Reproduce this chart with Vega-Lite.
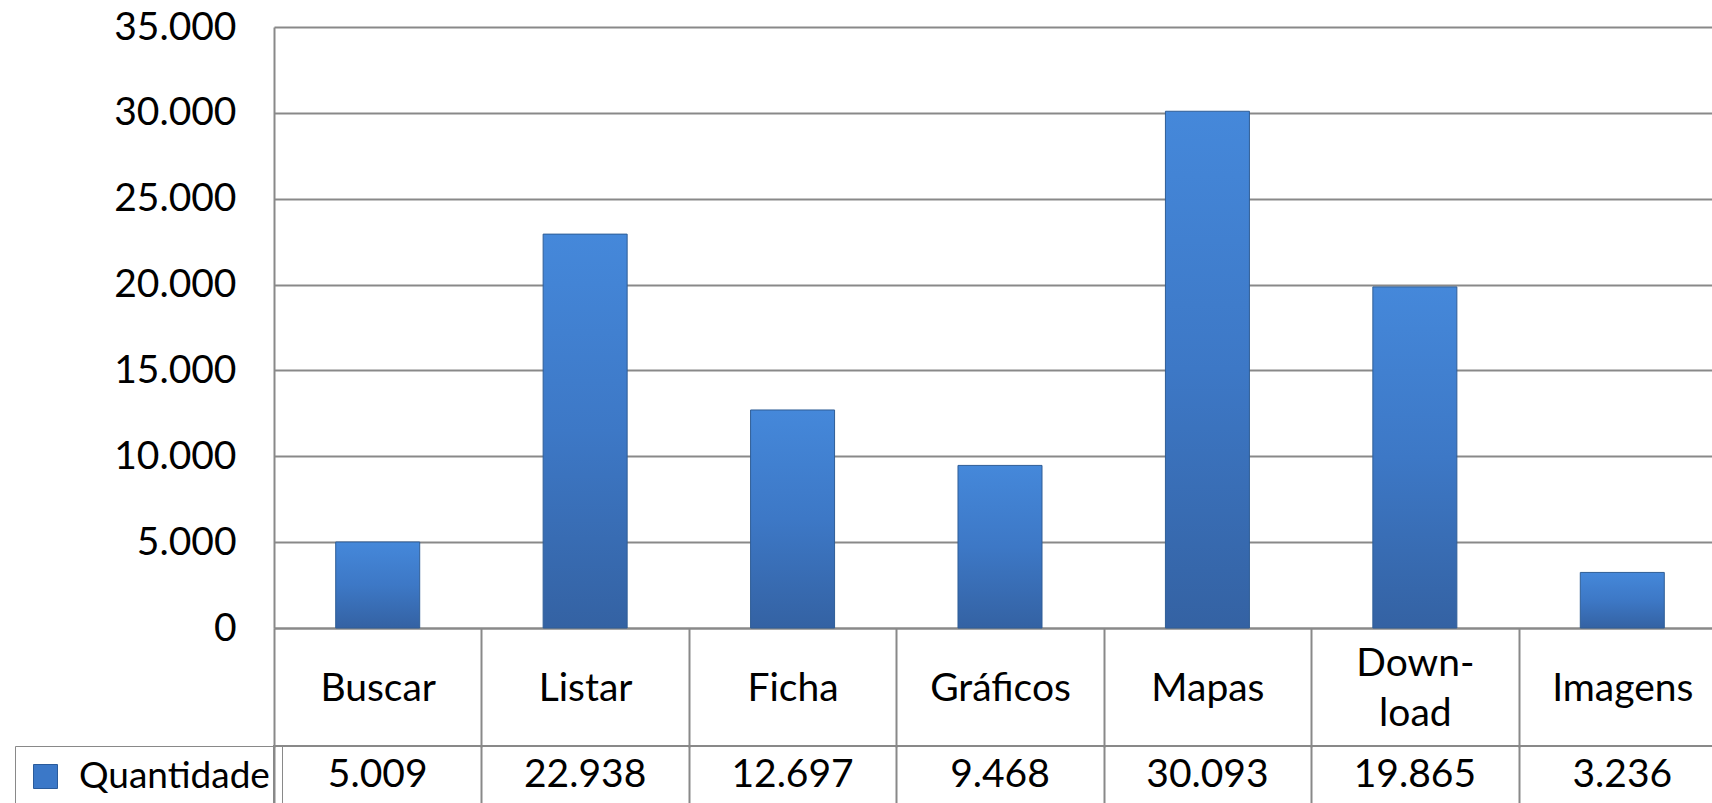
{
  "$schema": "https://vega.github.io/schema/vega-lite/v6.json",
  "padding": {"left": 14, "top": 8, "right": 0, "bottom": 0},
  "background": "white",
  "bounds": "flush",
  "spacing": 118,
  "data": {
    "values": [
      {"categoria": "Buscar", "quantidade": 5009, "serie": "Quantidade"},
      {"categoria": "Listar", "quantidade": 22938, "serie": "Quantidade"},
      {"categoria": "Ficha", "quantidade": 12697, "serie": "Quantidade"},
      {"categoria": "Gráficos", "quantidade": 9468, "serie": "Quantidade"},
      {"categoria": "Mapas", "quantidade": 30093, "serie": "Quantidade"},
      {"categoria": "Download", "quantidade": 19865, "serie": "Quantidade"},
      {"categoria": "Imagens", "quantidade": 3236, "serie": "Quantidade"}
    ]
  },
  "config": {
    "font": "Lato",
    "locale": {"number": {"decimal": ",", "thousands": ".", "grouping": [3], "currency": ["", ""]}},
    "axis": {"labelFont": "Lato", "labelFontSize": 39, "labelColor": "#000000", "title": null}
  },
  "vconcat": [
    {
      "width": 1452,
      "height": 601,
      "view": {"stroke": null},
      "resolve": {"legend": {"color": "independent"}},
      "layer": [
        {
          "mark": {
            "type": "bar",
            "width": {"band": 0.405},
            "stroke": "#2f5d96",
            "strokeWidth": 1,
            "color": {"gradient": "linear", "x1": 0, "y1": 0, "x2": 0, "y2": 1,
              "stops": [{"offset": 0, "color": "#4588da"}, {"offset": 0.5, "color": "#3d78c6"}, {"offset": 1, "color": "#3462a3"}]}
          },
          "encoding": {
            "x": {
              "field": "categoria", "type": "nominal", "sort": null,
              "scale": {"paddingInner": 0, "paddingOuter": 0},
              "axis": {
                "orient": "bottom",
                "labelAngle": 0,
                "labelExpr": "datum.value == 'Download' ? ['Down-', 'load'] : datum.value",
                "labelLineHeight": 50,
                "labelBaseline": "middle",
                "labelPadding": {"condition": {"test": "datum.value == 'Download'", "value": -84}, "value": -59},
                "labelLimit": 400,
                "tickBand": "extent",
                "ticks": true,
                "tickSize": 119,
                "tickColor": "#898989",
                "tickWidth": 2,
                "domain": true,
                "domainColor": "#898989",
                "domainWidth": 2,
                "grid": false
              }
            },
            "y": {
              "field": "quantidade", "type": "quantitative",
              "scale": {"domain": [0, 35000], "nice": false},
              "axis": {
                "values": [0, 5000, 10000, 15000, 20000, 25000, 30000, 35000],
                "format": ",d",
                "ticks": false,
                "labelPadding": 38,
                "domain": true,
                "domainColor": "#898989",
                "domainWidth": 2,
                "grid": true,
                "gridColor": "#898989",
                "gridWidth": 2
              }
            }
          }
        },
        {
          "mark": {"type": "square", "opacity": 0},
          "encoding": {
            "x": {"field": "categoria", "type": "nominal", "sort": null},
            "y": {"field": "quantidade", "type": "quantitative"},
            "color": {
              "field": "serie", "type": "nominal",
              "scale": {"range": ["#3b78c8"]},
              "legend": {
                "title": null,
                "orient": "none",
                "legendX": -259,
                "legendY": 719,
                "padding": 12,
                "strokeColor": "#898989",
                "symbolType": "square",
                "symbolSize": 576,
                "symbolOpacity": 1,
                "symbolStrokeColor": "#2a5b9b",
                "symbolStrokeWidth": 1,
                "labelFont": "Lato",
                "labelFontSize": 37,
                "labelColor": "#000000",
                "labelOffset": 15,
                "labelLimit": 400
              }
            }
          }
        }
      ]
    },
    {
      "width": 1452,
      "height": 58,
      "view": {"stroke": "#898989", "strokeWidth": 2},
      "mark": {"type": "text", "font": "Lato", "fontSize": 39, "color": "#000000", "baseline": "middle"},
      "encoding": {
        "x": {
          "field": "categoria", "type": "nominal", "sort": null,
          "scale": {"paddingInner": 0, "paddingOuter": 0},
          "axis": {
            "labels": false, "ticks": false, "domain": false,
            "grid": true, "tickBand": "extent", "gridColor": "#898989", "gridWidth": 2
          }
        },
        "text": {"field": "quantidade", "type": "quantitative", "format": ",d"}
      }
    }
  ]
}
